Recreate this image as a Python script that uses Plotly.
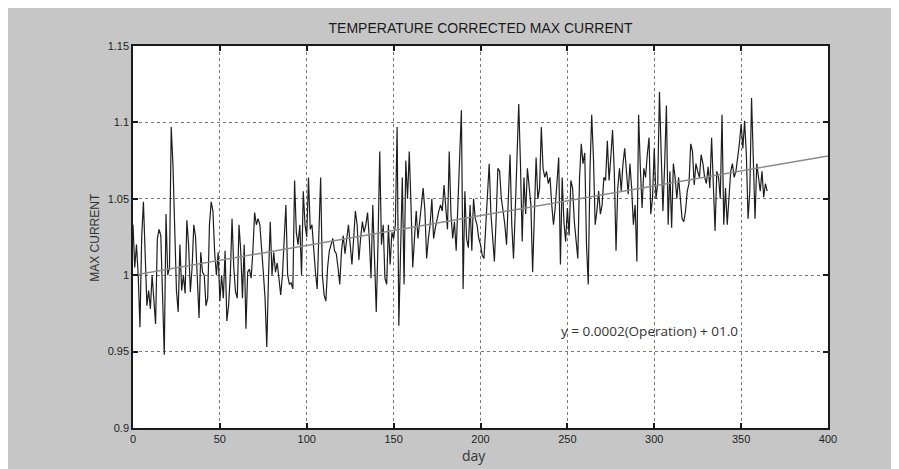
import plotly.graph_objects as go

# Daily values (day 0 .. 365)
max_current = [
    1.033, 1.005, 1.020, 1.000, 0.966, 1.025, 1.048, 1.005, 0.980, 0.990,
    0.978, 1.000, 0.985, 0.968, 1.024, 1.030, 1.026, 0.980, 0.948, 1.040,
    1.000, 1.005, 1.097, 1.072, 1.025, 0.990, 0.976, 1.020, 0.990, 1.000,
    0.988, 1.036, 1.020, 0.989, 1.005, 1.033, 1.025, 1.000, 0.972, 1.015,
    1.002, 1.000, 0.980, 0.985, 1.033, 1.048, 1.042, 1.015, 1.000, 1.015,
    0.983, 1.000, 0.985, 1.016, 0.970, 0.980, 1.000, 1.037, 1.005, 0.989,
    0.985, 1.033, 1.016, 0.985, 1.020, 0.965, 1.002, 1.004, 0.998, 1.016,
    1.041, 1.033, 1.037, 1.033, 1.020, 1.002, 0.985, 0.953, 1.000, 1.035,
    1.000, 1.015, 1.002, 1.008, 0.998, 0.987, 1.000, 1.020, 1.046, 1.000,
    0.994, 0.995, 0.991, 1.062, 1.028, 1.020, 1.033, 1.000, 1.055, 1.033,
    1.025, 1.064, 1.030, 1.033, 1.015, 1.002, 0.991, 1.037, 1.064, 1.000,
    0.987, 0.983, 1.005, 1.016, 1.020, 1.024, 1.016, 1.014, 1.005, 0.994,
    1.016, 1.026, 1.014, 1.024, 1.033, 1.020, 1.007, 1.024, 1.042, 1.033,
    1.010, 1.024, 1.035, 1.028, 1.033, 1.041, 1.024, 0.998, 1.046, 1.011,
    0.976, 1.020, 1.081, 1.020, 1.033, 0.998, 0.994, 1.033, 1.007, 1.028,
    1.024, 1.033, 1.097, 0.967, 1.011, 1.064, 0.994, 1.075, 1.050, 1.081,
    1.046, 1.005, 1.024, 1.042, 1.024, 1.035, 1.044, 1.057, 1.042, 1.011,
    1.024, 1.033, 1.050, 1.024, 1.031, 1.037, 1.042, 1.046, 1.042, 1.059,
    1.046, 1.030, 1.081, 1.040, 1.024, 1.035, 1.016, 1.046, 1.077, 1.108,
    0.991, 1.055, 1.024, 1.018, 1.046, 1.016, 1.050, 1.037, 1.033, 1.024,
    1.020, 1.013, 1.011, 1.035, 1.057, 1.073, 1.040, 1.024, 1.009, 1.037,
    1.070, 1.068, 1.050, 1.042, 1.033, 1.020, 1.046, 1.079, 1.033, 1.011,
    1.042, 1.077, 1.112, 1.073, 1.022, 1.064, 1.040, 1.070, 1.060, 1.046,
    1.002, 1.033, 1.077, 1.050, 1.057, 1.097, 1.070, 1.064, 1.068, 1.060,
    1.064, 1.046, 1.033, 1.044, 1.062, 1.077, 1.007, 1.064, 1.035, 1.022,
    1.044, 1.026, 1.062, 1.057, 1.035, 1.024, 1.011, 1.064, 1.086, 1.073,
    1.080, 1.020, 0.994, 1.068, 1.105, 1.077, 1.033, 1.042, 1.055, 1.040,
    1.046, 1.064, 1.062, 1.088, 1.062, 1.077, 1.095, 1.068, 1.016, 1.057,
    1.070, 1.055, 1.073, 1.083, 1.064, 1.053, 1.073, 1.057, 1.033, 1.046,
    1.009, 1.105, 1.070, 1.044, 1.070, 1.064, 1.079, 1.090, 1.040, 1.050,
    1.083, 1.050, 1.060, 1.120, 1.079, 1.042, 1.073, 1.111, 1.033, 1.068,
    1.031, 1.073, 1.064, 1.050, 1.064, 1.050, 1.037, 1.035, 1.042, 1.055,
    1.060, 1.086, 1.081, 1.059, 1.073, 1.068, 1.064, 1.079, 1.073, 1.064,
    1.060, 1.071, 1.057, 1.090, 1.062, 1.029, 1.068, 1.064, 1.050, 1.105,
    1.033, 1.057, 1.033, 1.050, 1.068, 1.073, 1.064, 1.068, 1.077, 1.086,
    1.099, 1.083, 1.101, 1.079, 1.037, 1.055, 1.116, 1.068, 1.037, 1.073,
    1.062, 1.055, 1.068, 1.051, 1.060, 1.055,
]
days = list(range(len(max_current)))

# Trend line end points (as drawn)
trend_days = [0, 400]
trend_values = [1.000, 1.078]

x_ticks = [0, 50, 100, 150, 200, 250, 300, 350, 400]
y_ticks = [0.9, 0.95, 1.0, 1.05, 1.1, 1.15]
y_tick_text = ["0.9", "0.95", "1", "1.05", "1.1", "1.15"]

title_text = "TEMPERATURE CORRECTED MAX CURRENT"
equation_text = "y = 0.0002(Operation) + 01.0"

fig = go.Figure()
fig.add_trace(go.Scatter(
    x=days, y=max_current, mode="lines",
    line=dict(color="#1e1e1e", width=1.2), hoverinfo="skip", showlegend=False,
))
fig.add_trace(go.Scatter(
    x=trend_days, y=trend_values, mode="lines",
    line=dict(color="#8a8a8a", width=1.5), hoverinfo="skip", showlegend=False,
))

narrow = "Liberation Sans Narrow, Arial Narrow, Liberation Sans, Arial, sans-serif"

axis_common = dict(
    showline=True, linecolor="#1a1a1a", linewidth=1.5, mirror="ticks",
    ticks="inside", ticklen=5, tickcolor="#1a1a1a", tickwidth=1.5,
    showgrid=True, gridcolor="#7a7a7a", griddash="dot", gridwidth=1,
    zeroline=False,
    tickfont=dict(family=narrow, size=11, color="#1e1e1e"),
)

fig.update_layout(
    width=899, height=469,
    margin=dict(l=125, r=79, t=38, b=49),
    paper_bgcolor="#c6c6c6", plot_bgcolor="#ffffff",
    title=dict(text=title_text, x=0.5, xref="paper", xanchor="center",
               y=1 - 20 / 469, yref="container", yanchor="middle",
               font=dict(family=narrow, size=14, color="#1a1a1a")),
    xaxis=dict(range=[0, 400], tickvals=x_ticks, **axis_common),
    yaxis=dict(range=[0.9, 1.15], tickvals=y_ticks, ticktext=y_tick_text, **axis_common),
    annotations=[
        dict(text="MAX CURRENT", xref="paper", yref="paper", x=-0.068, y=0.5,
             textangle=-90, showarrow=False,
             font=dict(family="Liberation Sans, Arial, sans-serif", size=12, color="#333333")),
        dict(text="day", xref="paper", yref="paper", x=0.49, y=-27 / 382,
             xanchor="center", yanchor="middle", showarrow=False,
             font=dict(family="Open Sans, Noto Sans, sans-serif", size=14, color="#333333")),
        dict(text=equation_text, xref="x", yref="y", x=297, y=0.9638,
             xanchor="center", yanchor="middle", showarrow=False,
             font=dict(family="Open Sans, Noto Sans, sans-serif", size=13.5, color="#333333")),
    ],
)

fig.write_html("out.html")
